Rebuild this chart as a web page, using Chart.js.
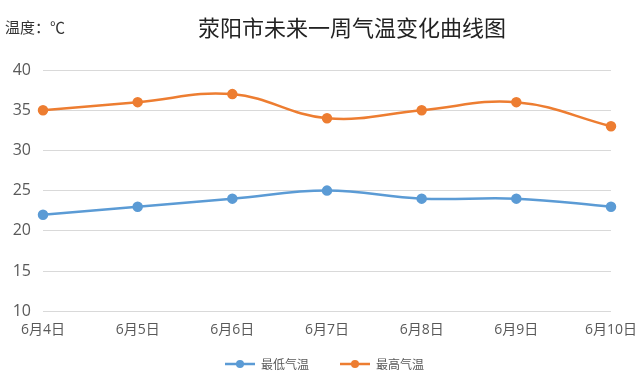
<!DOCTYPE html>
<html>
<head>
<meta charset="utf-8">
<script src="https://cdn.jsdelivr.net/npm/chart.js@4"></script>
<style>
  body { margin: 0; background: #fff; }
</style>
</head>
<body>
<canvas id="lineChart" width="640" height="375"></canvas>
<script>
// data
var days = ['6月4日', '6月5日', '6月6日', '6月7日', '6月8日', '6月9日', '6月10日'];
var lowTemps = [22, 23, 24, 25, 24, 24, 23];
var highTemps = [35, 36, 37, 34, 35, 36, 33];
var seriesNames = ['最低气温', '最高气温'];
var titleText = '荥阳市未来一周气温变化曲线图';
var unitText = '温度：℃';

var blue = '#5B9BD5';
var orange = '#ED7D31';
var font = "'Open Sans', 'Noto Sans CJK SC', sans-serif";

// little line + dot icon for the legend (left part left blank for spacing)
function legendIcon(color) {
    var c = document.createElement('canvas');
    c.width = 43; c.height = 10;
    var g = c.getContext('2d');
    g.strokeStyle = color;
    g.lineWidth = 2.5;
    g.beginPath(); g.moveTo(13, 5); g.lineTo(43, 5); g.stroke();
    g.fillStyle = color;
    g.beginPath(); g.arc(28, 5, 4, 0, Math.PI * 2); g.fill();
    return c;
}
var icons = [legendIcon(blue), legendIcon(orange)];

// title and unit label drawn on top, legend nudged right a bit
var headerText = {
    id: 'headerText',
    afterLayout: function (chart) {
        chart.legend.left += 10;
        chart.legend.right += 10;
    },
    afterDraw: function (chart) {
        var ctx = chart.ctx;
        ctx.save();
        ctx.textBaseline = 'middle';
        ctx.fillStyle = '#333';
        ctx.textAlign = 'left';
        ctx.font = "15px 'Noto Sans CJK SC', sans-serif";
        ctx.fillText(unitText, 5, 27);
        ctx.fillStyle = '#222';
        ctx.textAlign = 'center';
        ctx.font = "22px 'Noto Sans CJK SC', sans-serif";
        ctx.fillText(titleText, 352, 28);
        ctx.restore();
    }
};

var ctx = document.getElementById('lineChart').getContext('2d');
var lineChart = new Chart(ctx, {
    type: 'line',
    data: {
        labels: days,
        datasets: [{
            label: seriesNames[0],
            data: lowTemps,
            borderColor: blue,
            backgroundColor: blue,
            borderWidth: 2.5,
            pointRadius: 4,
            tension: 0.4
        }, {
            label: seriesNames[1],
            data: highTemps,
            borderColor: orange,
            backgroundColor: orange,
            borderWidth: 2.5,
            pointRadius: 4,
            tension: 0.4
        }]
    },
    options: {
        responsive: false,
        animation: false,
        layout: {
            padding: {top: 70, left: 5, right: 29, bottom: -5}
        },
        plugins: {
            legend: {
                position: 'bottom',
                labels: {
                    usePointStyle: true,
                    pointStyleWidth: 43,
                    padding: 18,
                    color: '#595959',
                    font: {family: "'Noto Sans CJK SC', sans-serif", size: 12},
                    generateLabels: function (chart) {
                        var items = Chart.defaults.plugins.legend.labels.generateLabels(chart);
                        items.forEach(function (it, i) { it.pointStyle = icons[i]; });
                        return items;
                    }
                }
            },
            tooltip: {enabled: false}
        },
        scales: {
            x: {
                offset: false,
                grid: {display: false},
                border: {display: false},
                ticks: {color: '#595959', font: {family: font, size: 14}, padding: 2, maxRotation: 0}
            },
            y: {
                min: 10,
                max: 40,
                ticks: {stepSize: 5, color: '#595959', font: {family: font, size: 16}, padding: 12},
                grid: {color: '#d9d9d9', drawTicks: false},
                border: {display: false},
                afterFit: function (scale) { scale.width = 38; }
            }
        }
    },
    plugins: [headerText]
});
</script>
</body>
</html>
